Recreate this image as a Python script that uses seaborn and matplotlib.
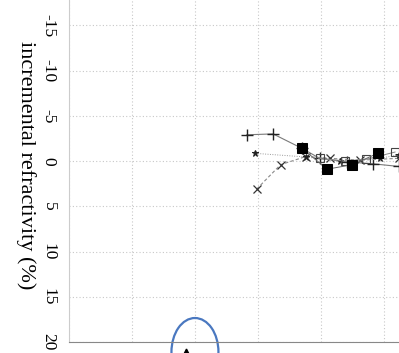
import matplotlib
matplotlib.use("Agg")
import matplotlib.pyplot as plt
from matplotlib.patches import Ellipse
from matplotlib.ticker import MultipleLocator
import numpy as np
import pandas as pd
import seaborn as sns

# Profiles of incremental refractivity (%) along the horizontal coordinate
plus_x = [14.1, 16.2, 18.5, 19.9, 22.1, 24.1, 26.2]
plus_y = [-2.9, -3.0, -1.4, -0.3, 0.1, 0.3, 0.6]

square_x = [18.5, 20.5, 22.5, 24.5]
square_y = [-1.4, 0.9, 0.4, -0.85]

cross_x = [14.9, 16.8, 18.8, 20.7, 23.1, 26.2]
cross_y = [3.1, 0.4, -0.5, -0.3, -0.1, -0.3]

star_x = [14.8, 18.8, 21.5, 24.7, 26.2]
star_y = [-0.85, -0.45, 0.0, -0.3, -0.7]

open_x = [19.9, 21.9, 23.6, 25.9]
open_y = [-0.3, 0.0, -0.2, -1.0]

y_ticks = [-15, -10, -5, 0, 5, 10, 15, 20]

sns.set_style("white")
plt.rcParams["font.family"] = ["Liberation Serif", "DejaVu Serif"]

fig = plt.figure(figsize=(3.99, 3.53), dpi=100)
ax = fig.add_axes([69 / 399, 11 / 353, 330 / 399, 342 / 353])

line_kw = dict(ax=ax, sort=False, estimator=None, legend=False)

sns.lineplot(data=pd.DataFrame({"x": plus_x, "y": plus_y}), x="x", y="y",
             color="#7a7a7a", linewidth=0.8, marker="+", markersize=8,
             markeredgecolor="#222222", markeredgewidth=1.0, **line_kw)
sns.lineplot(data=pd.DataFrame({"x": cross_x, "y": cross_y}), x="x", y="y",
             color="#8a8a8a", linewidth=0.8, linestyle=(0, (3, 2)),
             marker="x", markersize=6, markeredgecolor="#333333",
             markeredgewidth=0.9, **line_kw)
sns.lineplot(data=pd.DataFrame({"x": star_x, "y": star_y}), x="x", y="y",
             color="#999999", linewidth=0.7, linestyle=(0, (1, 1.5)),
             marker="*", markersize=5, markerfacecolor="#222222",
             markeredgecolor="#222222", **line_kw)
sns.lineplot(data=pd.DataFrame({"x": open_x, "y": open_y}), x="x", y="y",
             color="#888888", linewidth=0.7, marker="s", markersize=6,
             markerfacecolor="none", markeredgecolor="#444444",
             markeredgewidth=0.8, **line_kw)
sns.lineplot(data=pd.DataFrame({"x": square_x, "y": square_y}), x="x", y="y",
             color="#666666", linewidth=0.7, marker="s", markersize=6.5,
             markerfacecolor="black", markeredgecolor="black", **line_kw)

ax.set_xlim(0, 26.2)
ax.set_ylim(20, -17.8)

ax.xaxis.set_major_locator(MultipleLocator(5))
ax.xaxis.set_minor_locator(MultipleLocator(1))
ax.set_yticks(y_ticks)
ax.yaxis.set_minor_locator(MultipleLocator(1))
ax.set_yticklabels([str(t) for t in y_ticks], rotation=270, va="center",
                   fontsize=12.5, color="black")
ax.tick_params(axis="x", which="both", direction="in", labelbottom=False,
               color="#666666")
ax.tick_params(axis="x", which="major", length=6, width=0.8)
ax.tick_params(axis="x", which="minor", length=2.5, width=0.6)
ax.tick_params(axis="y", which="both", direction="in", color="#bbbbbb",
               pad=9)
ax.tick_params(axis="y", which="major", length=6, width=0.8)
ax.tick_params(axis="y", which="minor", length=2.5, width=0.6)

ax.grid(True, which="major", color="#c8c8c8", linestyle=(0, (1, 2)),
        linewidth=0.8)

for side in ("top", "right"):
    ax.spines[side].set_visible(False)
ax.spines["left"].set_color("#cccccc")
ax.spines["left"].set_linewidth(0.8)
ax.spines["bottom"].set_color("#888888")
ax.spines["bottom"].set_linewidth(0.8)

ax.set_xlabel("")
ax.set_ylabel("incremental refractivity (%)", rotation=270, fontsize=16,
              va="center", color="black")
ax.yaxis.set_label_coords(-0.13, 0.518)

# highlight around the marked position on the bottom axis
ax.add_patch(Ellipse((10.0, 21.1), width=3.73, height=7.5, fill=False,
                     edgecolor="#4a78c0", linewidth=1.6, clip_on=False))
ax.plot([9.3], [21.0], marker="^", markersize=3.5, color="black",
        clip_on=False, linestyle="none")

fig.savefig("out.png", dpi=100)
